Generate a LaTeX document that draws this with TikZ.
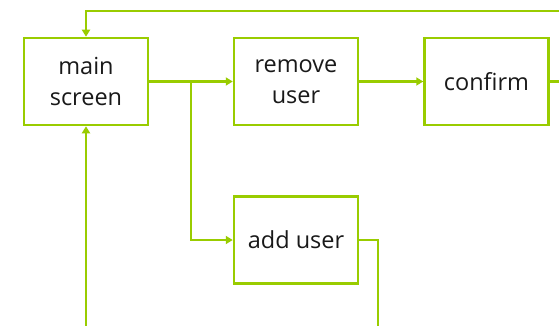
\documentclass[tikz,border=0pt]{standalone}
\usepackage{fontspec}
\setmainfont{Open Sans}
\usetikzlibrary{arrows.meta}
\definecolor{lime}{RGB}{153,204,0}
\tikzset{
  stepbox/.style={draw=lime, line width=2.5pt, minimum width=124pt, minimum height=87pt,
    align=center, font=\fontsize{23.5}{31}\selectfont, text=black!90, inner sep=0pt},
  link/.style={draw=lime, line width=2.5pt, -{Triangle[length=7pt,width=8pt]}}
}
\begin{document}
\begin{tikzpicture}[x=1pt, y=-1pt]
    \clip (0,0) rectangle (559,326);
    % screens
    \node[stepbox] (main) at (86,81.5) {main\\screen};
    \node[stepbox] (remove) at (296,81.5) {remove\\user};
    \node[stepbox] (confirm) at (486.5,81.5) {confirm};
    \node[stepbox] (add) at (296,240) {add user};
    % branch after the main screen
    \coordinate (split) at (191,81.5);
    \coordinate (backR) at (575,11);
    \coordinate (backB) at (378,345);
    \draw[link] (main.east) -- (remove.west);
    \draw[link] (split) |- (add.west);
    \draw[link] (remove.east) -- (confirm.west);
    % ways back to the main screen
    \draw[link] (confirm.east) -| (backR) -| (main.north);
    \draw[link] (add.east) -| (backB) -| (main.south);
\end{tikzpicture}
\end{document}
